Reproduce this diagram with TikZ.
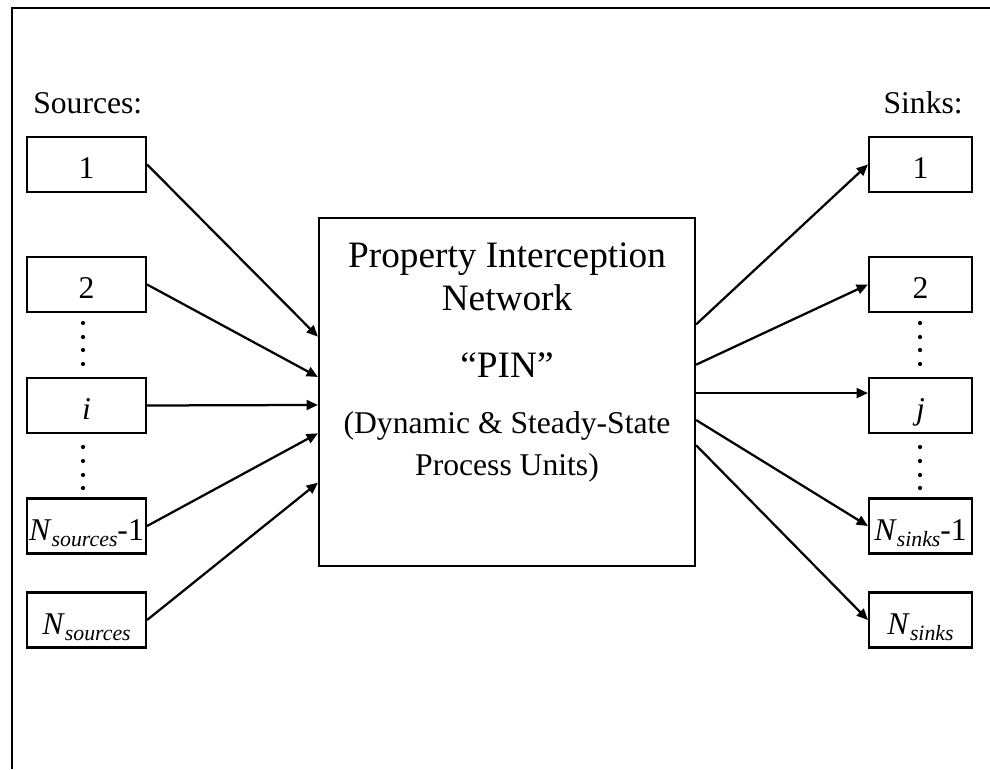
\documentclass[tikz,border=0pt]{standalone}
\usepackage{fontspec}
\setmainfont{Liberation Serif}
\usetikzlibrary{arrows.meta,calc}

% Word-like subscript: smaller and dropped a little
\newcommand\lowsub[1]{\raisebox{-0.2em}{\fontsize{15.5}{16}\selectfont\itshape #1}}

\begin{document}
\begin{tikzpicture}[
  x=0.025cm,y=-0.025cm,
  box/.style={draw=black,line width=1.5pt,minimum width=2.975cm,minimum height=1.375cm,
              inner sep=0pt,text height=20pt,text depth=0pt,font=\fontsize{22.5}{26}\selectfont},
  snk/.style={box,minimum width=2.575cm},
  hdr/.style={font=\fontsize{22.5}{26}\selectfont,inner sep=0pt},
  big/.style={font=\fontsize{26.5}{30}\selectfont,anchor=base},
  sml/.style={font=\fontsize{22.5}{27}\selectfont,anchor=base},
  flow/.style={-{Triangle[length=8pt,width=7pt]},line width=1.6pt}
]
\useasboundingbox (0,0) rectangle (990,769);
% frame
\draw[line width=1.6pt] (12,769) -- (12,8) -- (990,8);
% sources
\node[hdr,anchor=base west] (srclbl) at (33,113) {Sources:};
\node[box] (src1) at (86.5,164.5) {1};
\node[box] (src2) at (86.5,284.5) {2};
\node[box] (srci) at (86.5,405.5) {\textit{i}};
\node[box] (srcm) at (86.5,526) {\textit{N}\lowsub{sources}-1};
\node[box] (srcn) at (86.5,620) {\textit{N}\lowsub{sources}};
% sinks
\node[hdr,anchor=base east] (snklbl) at (963,113) {Sinks:};
\node[snk] (snk1) at (920.5,164.5) {1};
\node[snk] (snk2) at (920.5,284.5) {2};
\node[snk] (snkj) at (920.5,405.5) {\textit{j}};
\node[snk] (snkm) at (920.5,526) {\textit{N}\lowsub{sinks}-1};
\node[snk] (snkn) at (920.5,620) {\textit{N}\lowsub{sinks}};
% vertical ellipses
\foreach \y in {323,337,350,364,447,461,475,488} {
  \fill (83,\y) circle (1.5pt);
  \fill (920,\y) circle (1.5pt);
}
% network block
\node[draw=black,line width=1.5pt,minimum width=9.4cm,minimum height=8.7cm] (pin) at (507,392) {};
\node[big] (t1) at (507,267) {Property Interception};
\node[big] (t2) at (507,310) {Network};
\node[big] (t3) at (507,377) {``PIN''};
\node[sml] (t4) at (507,433) {(Dynamic \& Steady-State};
\node[sml] (t5) at (507,475) {Process Units)};
% ports on the block sides
\foreach \f [count=\k] in {0.342,0.457,0.537,0.618,0.759}
  \coordinate (in\k) at ($(pin.north west)!\f!(pin.south west)$);
\foreach \f [count=\k] in {0.307,0.422,0.503,0.580,0.652}
  \coordinate (out\k) at ($(pin.north east)!\f!(pin.south east)$);
% streams in
\draw[flow] (src1.east) -- (in1);
\draw[flow] (src2.east) -- (in2);
\draw[flow] (srci.east) -- (in3);
\draw[flow] (srcm.east) -- (in4);
\draw[flow] (srcn.east) -- (in5);
% streams out
\draw[flow] (out1) -- (snk1.west);
\draw[flow] (out2) -- (snk2.west);
\draw[flow] (out3) -- (snkj.west |- out3);
\draw[flow] (out4) -- (snkm.west);
\draw[flow] (out5) -- (snkn.west);
\end{tikzpicture}
\end{document}
